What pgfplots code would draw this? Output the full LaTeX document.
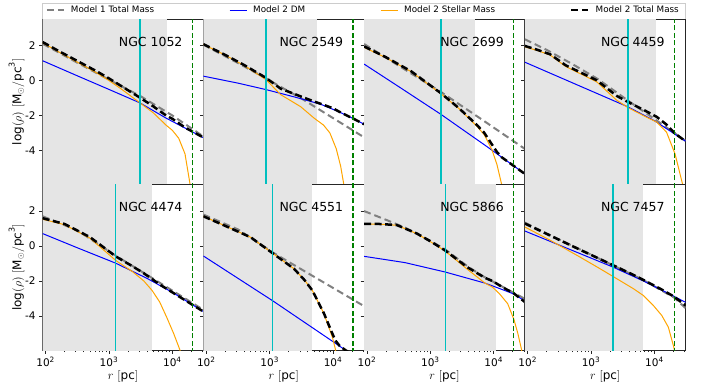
\documentclass[border=0pt]{standalone}
\usepackage{fontspec}
\setmainfont{DejaVu Sans}
\usepackage{pgfplots}
\pgfplotsset{compat=1.18}
\definecolor{shade}{RGB}{229,229,229}
\definecolor{mcyan}{RGB}{0,191,191}
\definecolor{mgreen}{RGB}{0,128,0}
\definecolor{morange}{RGB}{255,165,0}
\definecolor{mblue}{RGB}{0,0,255}
\definecolor{mgray}{RGB}{128,128,128}
\pgfplotsset{
 panel/.style={
   scale only axis, width=160.7pt, height=165.5pt,
   xmin=1.954, xmax=4.49, ymin=-5.95, ymax=3.52,
   axis line style={line width=0.8pt, black!85},
   tick align=outside, xtick pos=bottom, ytick pos=left,
   major tick length=3.5pt, minor tick length=2pt,
   every tick/.style={black!85, line width=0.7pt},
   ytick={-4,-2,0,2}, yticklabels={},
   tick label style={font=\fontsize{10.5}{12}\selectfont},
 },
 toprow/.style={xtick=\empty, minor xtick={}},
 botrow/.style={xtick={2,3,4},
   xticklabels={10\textsuperscript{2},10\textsuperscript{3},10\textsuperscript{4}},
   minor xtick={2.301,2.477,2.602,2.699,2.778,2.845,2.903,2.954,3.301,3.477,3.602,3.699,3.778,3.845,3.903,3.954,4.301,4.477},
   xlabel={$r\ [\mathrm{pc}]$},
   every axis x label/.style={at={(axis description cs:0.5,-0.161)},anchor=center,font=\fontsize{12}{14}\selectfont}},
 firstcol/.style={yticklabels={-4,-2,0,2},
   ylabel={$\log(\rho)\ [\mathrm{M_{\odot}/pc^{3}}]$},
   every axis y label/.style={at={(axis description cs:-0.163,0.5)},rotate=90,anchor=center,font=\fontsize{12}{14}\selectfont}},
 m1/.style={color=mgray, line width=2pt, dash pattern=on 7pt off 4pt},
 dm/.style={color=mblue, line width=1pt},
 st/.style={color=morange, line width=1pt},
 tot/.style={color=black, line width=2.5pt, dash pattern=on 7pt off 3.5pt},
}
\newcommand\bg[1]{\addplot[fill=shade, draw=none, forget plot] coordinates {(1.9,-7) (#1,-7) (#1,5) (1.9,5)};}
\newcommand\vl[2]{\addplot[color=mcyan, line width=1.6pt, forget plot] coordinates {(#1,-7) (#1,5)};
  \addplot[color=mgreen, line width=1.4pt, dash pattern=on 5pt off 2.5pt, forget plot] coordinates {(#2,-7) (#2,5)};}
\newcommand\name[1]{\node[font=\fontsize{12.5}{14}\selectfont] at (rel axis cs:0.672,0.863) {#1};}
\begin{document}
\begin{tikzpicture}
\useasboundingbox (-42.7pt,19pt) rectangle (664.3pt,-370pt);
\draw[black!20, line width=0.8pt] (0pt,0pt) rectangle (642.8pt,16pt);
% ---------- NGC 1052
\begin{axis}[panel, toprow, firstcol, at={(0pt,0pt)}, anchor=north west,
  legend columns=4,
  legend style={at={(axis description cs:0,1)}, anchor=south west, yshift=1.5pt, draw=none, fill=none,
    font=\fontsize{8.8}{10}\selectfont, inner ysep=1pt,
    /tikz/every odd column/.append style={column sep=4pt},
    /tikz/every even column/.append style={column sep=73pt}}]
\bg{3.91}
\addplot[m1] coordinates {(1.954,2.1) (2.2,1.62) (2.5,1.02) (3.0,0.05) (3.5,-0.9) (4.0,-2.0) (4.49,-3.2)};
\addlegendentry{Model 1 Total Mass}
\addplot[dm] coordinates {(1.954,1.13) (2.5,0.27) (3.0,-0.51) (3.489,-1.28) (3.9,-2.15) (4.2,-2.72) (4.49,-3.27)};
\addlegendentry{Model 2 DM}
\addplot[st] coordinates {(1.954,2.16) (2.2,1.65) (2.5,1.05) (2.8,0.45) (3.0,0.0) (3.2,-0.5) (3.489,-1.28) (3.7,-1.85) (3.9,-2.55) (4.0,-2.85) (4.1,-3.3) (4.2,-4.2) (4.28,-5.95) (4.3,-6.5)};
\addlegendentry{Model 2 Stellar Mass}
\addplot[tot] coordinates {(1.954,2.2) (2.2,1.7) (2.5,1.12) (2.8,0.54) (3.0,0.12) (3.2,-0.33) (3.489,-0.98) (3.7,-1.48) (3.9,-2.0) (4.0,-2.19) (4.1,-2.44) (4.2,-2.69) (4.49,-3.26)};
\addlegendentry{Model 2 Total Mass}
\vl{3.489}{4.315}
\name{NGC 1052}
\end{axis}
% ---------- NGC 2549
\begin{axis}[panel, toprow, at={(160.7pt,0pt)}, anchor=north west]
\bg{3.743}
\addplot[m1] coordinates {(1.954,2.05) (2.5,1.0) (2.943,0.12) (3.2,-0.42) (3.49,-1.0) (4.0,-2.15) (4.49,-3.25)};
\addplot[dm] coordinates {(1.954,0.25) (2.5,-0.15) (2.943,-0.52) (3.4,-0.95) (3.8,-1.35) (4.1,-1.8) (4.33,-2.2) (4.49,-2.5)};
\addplot[st] coordinates {(1.954,2.07) (2.3,1.45) (2.6,0.85) (2.943,0.05) (3.17,-0.8) (3.49,-1.5) (3.7,-2.15) (3.85,-2.55) (3.95,-3.0) (4.05,-3.9) (4.12,-4.9) (4.17,-5.95) (4.19,-6.5)};
\addplot[tot] coordinates {(1.954,2.08) (2.3,1.46) (2.6,0.88) (2.943,0.15) (3.17,-0.46) (3.49,-0.91) (3.7,-1.2) (3.85,-1.39) (4.0,-1.59) (4.1,-1.79) (4.33,-2.2) (4.49,-2.5)};
\vl{2.943}{4.315}
\name{NGC 2549}
\end{axis}
% ---------- NGC 2699
\begin{axis}[panel, toprow, at={(321.4pt,0pt)}, anchor=north west]
\bg{3.705}
\addplot[m1] coordinates {(1.954,2.09) (2.5,0.85) (3.164,-0.65) (3.8,-2.2) (4.49,-3.91)};
\addplot[dm] coordinates {(1.954,0.94) (2.5,-0.35) (3.164,-1.93) (3.9,-3.8) (4.49,-5.34)};
\addplot[st] coordinates {(1.954,1.9) (2.3,1.3) (2.7,0.5) (3.164,-0.75) (3.45,-1.6) (3.73,-2.6) (3.85,-3.1) (3.97,-3.95) (4.05,-4.8) (4.125,-5.95) (4.14,-6.5)};
\addplot[tot] coordinates {(1.954,1.95) (2.3,1.33) (2.7,0.52) (3.164,-0.72) (3.45,-1.58) (3.73,-2.53) (3.85,-2.99) (3.97,-3.65) (4.05,-4.09) (4.125,-4.39) (4.49,-5.34)};
\vl{3.164}{4.315}
\name{NGC 2699}
\end{axis}
% ---------- NGC 4459
\begin{axis}[panel, toprow, at={(482.1pt,0pt)}, anchor=north west]
\bg{4.02}
\addplot[m1] coordinates {(1.954,2.36) (2.3,1.75) (2.7,0.95) (3.1,0.1) (3.583,-1.15) (4.0,-2.2) (4.49,-3.45)};
\addplot[dm] coordinates {(1.954,1.05) (2.8,-0.28) (3.583,-1.51) (4.0,-2.3) (4.49,-3.47)};
\addplot[st] coordinates {(1.954,1.93) (2.15,1.72) (2.354,1.46) (2.6,0.8) (2.88,0.3) (3.09,-0.08) (3.405,-1.13) (3.583,-1.55) (3.85,-2.05) (4.036,-2.38) (4.19,-2.95) (4.325,-4.2) (4.445,-5.95) (4.46,-6.5)};
\addplot[tot] coordinates {(1.954,1.98) (2.15,1.76) (2.354,1.5) (2.6,0.87) (2.88,0.38) (3.09,0.01) (3.405,-0.88) (3.583,-1.23) (3.85,-1.72) (4.036,-2.08) (4.19,-2.52) (4.325,-3.04) (4.49,-3.47)};
\vl{3.583}{4.315}
\name{NGC 4459}
\end{axis}
% ---------- NGC 4474
\begin{axis}[panel, botrow, firstcol, at={(0pt,-165.5pt)}, anchor=north west]
\bg{3.683}
\addplot[m1] coordinates {(1.954,1.7) (2.5,0.9) (3.105,-0.55) (3.6,-1.65) (4.0,-2.55) (4.49,-3.65)};
\addplot[dm] coordinates {(1.954,0.71) (2.5,-0.1) (3.105,-0.98) (3.6,-1.85) (4.0,-2.65) (4.49,-3.75)};
\addplot[st] coordinates {(1.954,1.53) (2.3,1.22) (2.7,0.45) (3.105,-0.82) (3.38,-1.49) (3.55,-2.0) (3.68,-2.54) (3.8,-3.2) (3.91,-4.07) (4.02,-5.0) (4.12,-5.95) (4.14,-6.5)};
\addplot[tot] coordinates {(1.954,1.59) (2.3,1.26) (2.7,0.51) (3.105,-0.59) (3.38,-1.18) (3.55,-1.56) (3.68,-1.89) (3.8,-2.2) (4.0,-2.65) (4.49,-3.75)};
\vl{3.105}{4.315}
\name{NGC 4474}
\end{axis}
% ---------- NGC 4551
\begin{axis}[panel, botrow, at={(160.7pt,-165.5pt)}, anchor=north west]
\bg{3.664}
\addplot[m1] coordinates {(1.954,1.8) (2.5,0.95) (3.042,-0.35) (3.226,-0.75) (4.49,-3.44)};
\addplot[dm] coordinates {(1.954,-0.57) (3.042,-3.12) (4.015,-5.51) (4.2,-5.97) (4.3,-6.2)};
\addplot[st] coordinates {(1.954,1.7) (2.3,1.15) (2.7,0.5) (3.042,-0.4) (3.384,-1.3) (3.55,-1.95) (3.673,-2.54) (3.857,-3.88) (3.99,-5.22) (4.04,-5.95) (4.06,-6.5)};
\addplot[tot] coordinates {(1.954,1.7) (2.3,1.15) (2.7,0.5) (3.042,-0.4) (3.384,-1.3) (3.55,-1.95) (3.673,-2.54) (3.857,-3.86) (3.99,-5.02) (4.04,-5.42) (4.1,-5.7) (4.2,-5.97) (4.3,-6.2)};
\vl{3.042}{4.315}
\name{NGC 4551}
\end{axis}
% ---------- NGC 5866
\begin{axis}[panel, botrow, at={(321.4pt,-165.5pt)}, anchor=north west]
\bg{4.031}
\addplot[m1] coordinates {(1.954,2.0) (2.3,1.5) (2.6,1.05) (3.0,0.3) (3.236,-0.2) (3.6,-1.2) (3.836,-1.74) (4.49,-3.02)};
\addplot[dm] coordinates {(1.954,-0.59) (2.6,-0.95) (3.236,-1.49) (3.86,-2.12) (4.09,-2.43) (4.32,-2.75) (4.49,-3.15)};
\addplot[st] coordinates {(1.954,1.26) (2.2,1.25) (2.47,1.19) (2.785,0.71) (3.0,0.25) (3.236,-0.29) (3.573,-1.3) (3.86,-2.12) (3.98,-2.35) (4.09,-2.73) (4.22,-3.3) (4.32,-4.22) (4.38,-5.0) (4.44,-5.95) (4.46,-6.5)};
\addplot[tot] coordinates {(1.954,1.27) (2.2,1.26) (2.47,1.2) (2.785,0.72) (3.0,0.27) (3.236,-0.26) (3.573,-1.19) (3.86,-1.82) (3.98,-2.0) (4.09,-2.25) (4.22,-2.52) (4.32,-2.72) (4.49,-3.2)};
\vl{3.236}{4.315}
\name{NGC 5866}
\end{axis}
% ---------- NGC 7457
\begin{axis}[panel, botrow, at={(482.1pt,-165.5pt)}, anchor=north west]
\bg{3.825}
\addplot[m1] coordinates {(1.954,1.34) (2.354,0.62) (2.8,-0.15) (3.342,-1.1) (3.826,-1.95) (4.31,-2.95) (4.49,-3.55)};
\addplot[dm] coordinates {(1.954,0.86) (2.5,0.05) (3.342,-1.2) (3.826,-2.0) (4.31,-2.88) (4.49,-3.22)};
\addplot[st] coordinates {(1.954,1.09) (2.354,0.33) (2.8,-0.58) (3.142,-1.3) (3.405,-1.87) (3.667,-2.44) (3.825,-2.83) (3.982,-3.4) (4.115,-3.97) (4.219,-4.64) (4.298,-5.69) (4.325,-6.1)};
\addplot[tot] coordinates {(1.954,1.29) (2.354,0.6) (2.8,-0.17) (3.142,-0.75) (3.342,-1.09) (3.667,-1.65) (3.825,-1.94) (3.982,-2.24) (4.115,-2.49) (4.31,-2.9) (4.49,-3.4)};
\vl{3.342}{4.315}
\name{NGC 7457}
\end{axis}
\end{tikzpicture}
\end{document}
